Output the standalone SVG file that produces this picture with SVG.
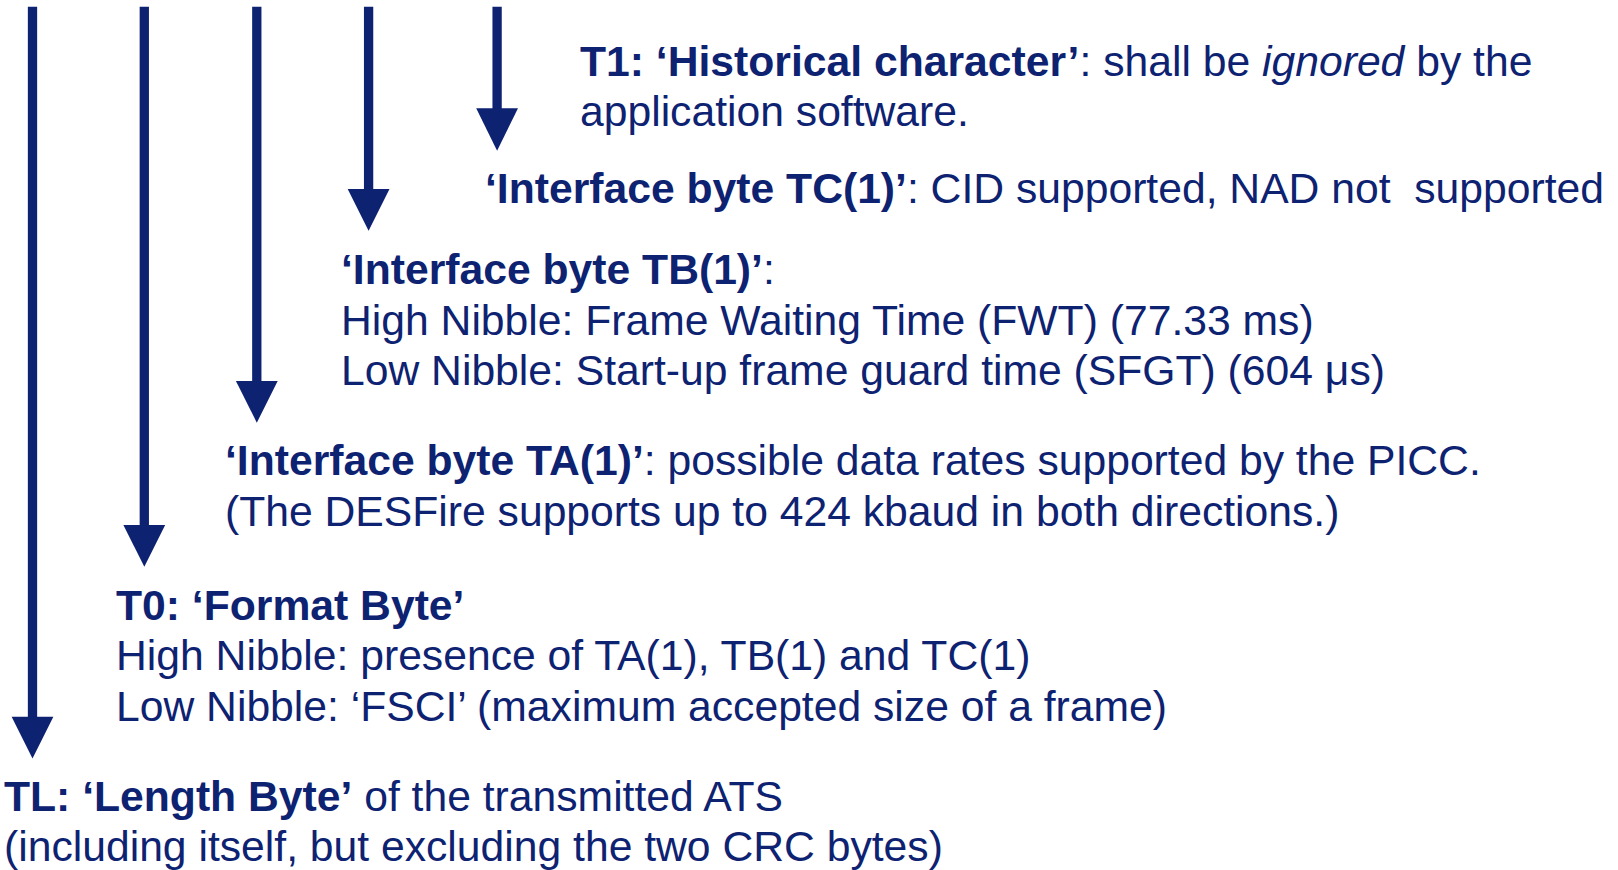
<svg xmlns="http://www.w3.org/2000/svg" width="1618" height="870" viewBox="0 0 1618 870">
  <style>
    .t { font-family: "Liberation Sans", Arial, sans-serif; font-size: 42.67px; fill: #0e2272; white-space: pre; }
    .b { font-weight: bold; }
    .i { font-style: italic; }
    .shaft { stroke: #0e2272; stroke-width: 9.3; fill: none; }
    .head { fill: #0e2272; }
  </style>
  <rect width="1618" height="870" fill="#ffffff"/>

  <!-- downward arrows, one per ATS byte -->
  <g id="connectors">
    <line class="shaft" x1="32.5" y1="6.7" x2="32.5" y2="718"/>
    <polygon class="head" points="11.6,716.7 53.4,716.7 32.5,758.5"/>
    <line class="shaft" x1="144.3" y1="6.7" x2="144.3" y2="526"/>
    <polygon class="head" points="123.4,525 165.2,525 144.3,566.7"/>
    <line class="shaft" x1="256.8" y1="6.7" x2="256.8" y2="382"/>
    <polygon class="head" points="235.9,381 277.7,381 256.8,422.7"/>
    <line class="shaft" x1="368.6" y1="6.7" x2="368.6" y2="190"/>
    <polygon class="head" points="347.7,189 389.5,189 368.6,230.7"/>
    <line class="shaft" x1="497.1" y1="6.7" x2="497.1" y2="109"/>
    <polygon class="head" points="476.2,108.3 518,108.3 497.1,150.7"/>
  </g>

  <g id="t1">
    <text class="t" x="580" y="75.7"><tspan class="b">T1: ‘Historical character’</tspan>: shall be <tspan class="i">ignored</tspan> by the</text>
    <text class="t" x="580" y="126">application software.</text>
  </g>

  <g id="tc1">
    <text class="t" x="485" y="202.5"><tspan class="b">‘Interface byte TC(1)’</tspan>: CID supported, NAD not  supported</text>
  </g>

  <g id="tb1">
    <text class="t" x="341" y="283.5"><tspan class="b">‘Interface byte TB(1)’</tspan>:</text>
    <text class="t" x="341" y="334.5">High Nibble: Frame Waiting Time (FWT) (77.33 ms)</text>
    <text class="t" x="341" y="385">Low Nibble: Start-up frame guard time (SFGT) (604 μs)</text>
  </g>

  <g id="ta1">
    <text class="t" x="225" y="475"><tspan class="b">‘Interface byte TA(1)’</tspan>: possible data rates supported by the PICC.</text>
    <text class="t" x="225" y="525.5">(The DESFire supports up to 424 kbaud in both directions.)</text>
  </g>

  <g id="t0">
    <text class="t b" x="116" y="619.5">T0: ‘Format Byte’</text>
    <text class="t" x="116" y="670">High Nibble: presence of TA(1), TB(1) and TC(1)</text>
    <text class="t" x="116" y="720.5">Low Nibble: ‘FSCI’ (maximum accepted size of a frame)</text>
  </g>

  <g id="tl">
    <text class="t" x="4" y="811"><tspan class="b">TL: ‘Length Byte’</tspan> of the transmitted ATS</text>
    <text class="t" x="4" y="861">(including itself, but excluding the two CRC bytes)</text>
  </g>
</svg>
